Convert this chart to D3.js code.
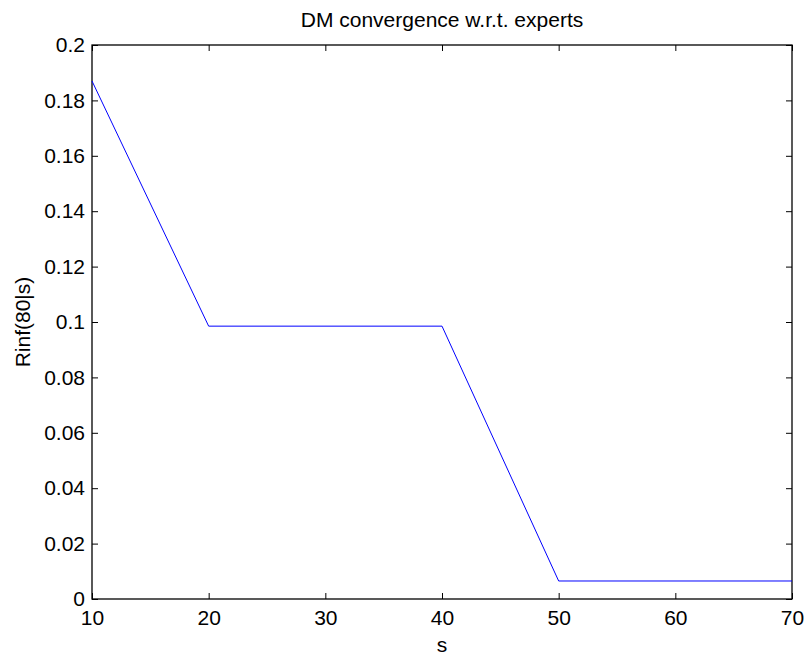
<!DOCTYPE html>
<html>
<head>
<meta charset="utf-8">
<script src="https://cdn.jsdelivr.net/npm/d3@7"></script>
<style>
  html, body { margin: 0; padding: 0; background: #fff; }
  svg { display: block; font-family: "Liberation Sans", Arial, Helvetica, sans-serif; }
</style>
</head>
<body>
<svg id="chart" width="808" height="657"></svg>
<script>
// Sample sizes and the corresponding Rinf(80|s) values
const sValues = [10, 20, 40, 50, 70];
const rinfValues = [0.187, 0.0985, 0.0985, 0.0065, 0.0065];
const xTicks = [10, 20, 30, 40, 50, 60, 70];
const yTicks = [0, 0.02, 0.04, 0.06, 0.08, 0.1, 0.12, 0.14, 0.16, 0.18, 0.2];

const svg = d3.select("#chart");
const margin = { left: 92, right: 16, top: 45, bottom: 58 };
const W = 808, H = 657;
const plotW = W - margin.left - margin.right;
const plotH = H - margin.top - margin.bottom;
const fontFamily = "'Liberation Sans', Arial, Helvetica, sans-serif";
const tickFont = 21;

const x = d3.scaleLinear().domain([10, 70]).range([0, plotW]);
const y = d3.scaleLinear().domain([0, 0.2]).range([plotH, 0]);

const g = svg.append("g").attr("transform", `translate(${margin.left},${margin.top})`);

const tickLen = 6;
const fmt = d => d3.format("~g")(d);

// Bottom and left axes with inward ticks
const xAxis = g.append("g").attr("transform", `translate(0,${plotH})`)
  .call(d3.axisBottom(x).tickValues(xTicks).tickSizeInner(-tickLen).tickSizeOuter(0).tickPadding(11).tickFormat(fmt));
const yAxis = g.append("g")
  .call(d3.axisLeft(y).tickValues(yTicks).tickSizeInner(-tickLen).tickSizeOuter(0).tickPadding(7).tickFormat(fmt));
// Mirrored ticks along the top and right edges
const xTop = g.append("g")
  .call(d3.axisTop(x).tickValues(xTicks).tickSizeInner(-tickLen).tickSizeOuter(0).tickFormat(""));
const yRight = g.append("g").attr("transform", `translate(${plotW},0)`)
  .call(d3.axisRight(y).tickValues(yTicks).tickSizeInner(-tickLen).tickSizeOuter(0).tickFormat(""));

[xAxis, yAxis, xTop, yRight].forEach(a => {
  a.select(".domain").remove();
  a.selectAll("line").attr("stroke", "#000").attr("stroke-width", 1);
  a.selectAll("text").attr("font-size", tickFont).attr("fill", "#000")
    .attr("font-family", fontFamily);
});

// Axes box
g.append("rect").attr("x", 0).attr("y", 0).attr("width", plotW).attr("height", plotH)
  .attr("fill", "none").attr("stroke", "#000").attr("stroke-width", 1.3);

// Data line
const line = d3.line().x((d, i) => x(sValues[i])).y(d => y(d));
g.append("path").datum(rinfValues)
  .attr("d", line).attr("fill", "none").attr("stroke", "#0000ff").attr("stroke-width", 1);

// Title and axis labels
svg.append("text").attr("x", margin.left + plotW / 2).attr("y", 27)
  .attr("text-anchor", "middle").attr("font-size", 21).text("DM convergence w.r.t. experts");
svg.append("text").attr("x", margin.left + plotW / 2).attr("y", 652)
  .attr("text-anchor", "middle").attr("font-size", 21).text("s");
svg.append("text").attr("transform", `translate(30,${margin.top + plotH / 2}) rotate(-90)`)
  .attr("text-anchor", "middle").attr("font-size", 21).text("Rinf(80|s)");
</script>
</body>
</html>
